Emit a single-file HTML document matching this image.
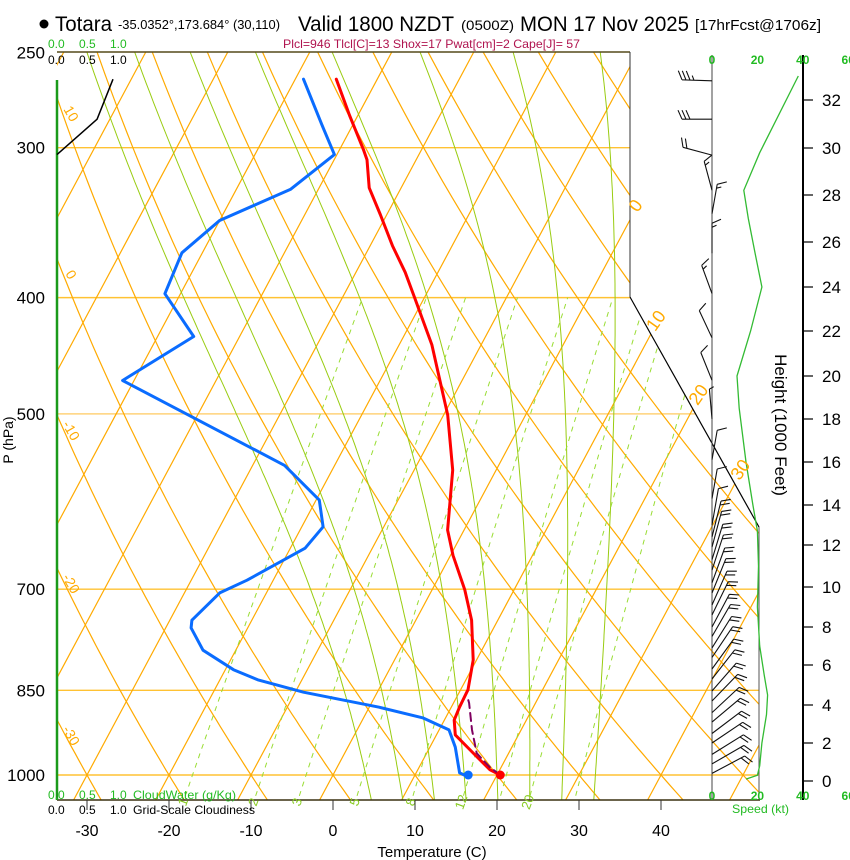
<!DOCTYPE html>
<html><head><meta charset="utf-8"><style>
html,body{margin:0;padding:0;background:#fff;}
body{position:relative;width:850px;height:860px;overflow:hidden;}
svg{display:block;font-family:"Liberation Sans",Arial,sans-serif;}
</style></head><body>
<svg id="chart" xmlns="http://www.w3.org/2000/svg" width="850" height="860" viewBox="0 0 850 860">
<defs><clipPath id="plotclip"><polygon points="57,52 630,52 630,297 759,527 759,800 57,800"/></clipPath></defs>
<g id="title">
<circle cx="44" cy="24" r="4.5" fill="#000"/>
<text x="55" y="31" font-size="21" textLength="57" lengthAdjust="spacingAndGlyphs">Totara</text>
<text x="118" y="29" font-size="12.5" textLength="162" lengthAdjust="spacingAndGlyphs">-35.0352°,173.684° (30,110)</text>
<text x="298" y="31" font-size="21" textLength="156" lengthAdjust="spacingAndGlyphs">Valid 1800 NZDT</text>
<text x="461" y="30" font-size="14" textLength="53" lengthAdjust="spacingAndGlyphs">(0500Z)</text>
<text x="520" y="31" font-size="21" textLength="169" lengthAdjust="spacingAndGlyphs">MON 17 Nov 2025</text>
<text x="695" y="30" font-size="15" textLength="126" lengthAdjust="spacingAndGlyphs">[17hrFcst@1706z]</text>
<text x="283" y="48" font-size="12" fill="#b0144f" textLength="297" lengthAdjust="spacingAndGlyphs">Plcl=946 Tlcl[C]=13 Shox=17 Pwat[cm]=2 Cape[J]= 57</text>
</g>
<g id="grid" clip-path="url(#plotclip)"></g>
<g id="frame"></g>
<g id="profiles"></g>
<g id="wind"></g>
<g id="labels"></g>
</svg>
<script>
// ---- data ----
const tempP = [263,282,301,307,324,341,362,381,400,438,469,501,557,625,656,701,743,802,849,878,900,926,966,990,1000];
const tempT = [-45.0,-41.0,-37.1,-36.0,-33.9,-30.8,-27.3,-24.0,-21.2,-16.0,-12.7,-9.5,-5.3,-2.0,0.3,4.0,6.8,9.6,10.9,11.0,11.2,12.3,16.4,18.8,20.4];
const dewP = [263,287,304,325,345,367,397,431,469,552,590,621,647,688,705,743,754,787,817,833,853,878,896,917,948,996,1000];
const dewT = [-49.0,-43.8,-40.3,-43.4,-50.0,-52.5,-51.9,-45.6,-51.4,-26.1,-19.6,-17.4,-18.2,-23.2,-25.7,-27.3,-26.9,-24.0,-19.0,-15.4,-9.0,1.2,7.2,11.2,13.1,15.3,16.0];
const parcelP = [1000,985,959,917,871,861];
const parcelT = [20.4,18.6,16.1,14.0,11.9,11.3];
const cloudP = [263,284,304];
const cloudC = [0.95,0.68,0.0];
const pressureTicks = [250,300,400,500,700,850,1000];
const pressureLines = [300,400,500,700,850,1000];
const tempTicks = [-30,-20,-10,0,10,20,30,40];
const thetaLabels = [10,0,-10,-20,-30];
const isoLabels = [0,10,20,30];
const mixRatios = [1,2,3,5,8,12,16,20,28];
const mixLabels = [1,2,3,5,8,12,20];
const moistThw = [4,8,12,16,20,24,28,32];
const windH = [32.8,31.2,29.7,28.2,27.2,25.5,23.7,21.7,19.8,18.0,16.1,14.3,13.0,12.4,11.9,11.3,10.8,10.2,9.7,9.1,8.6,8.0,7.5,6.9,6.4,5.8,5.3,4.7,4.2,3.6,3.1,2.5,2.0,1.4,0.9,0.4];
const windDir = [272,270,285,345,10,0,340,335,338,355,10,10,10,14,15,17,18,20,22,24,26,28,30,32,34,36,38,41,44,47,50,53,56,58,60,62];
const windSpd = [35,30,20,15,15,15,15,10,10,5,10,10,10,20,20,20,20,20,20,20,20,20,20,20,20,20,20,20,20,20,20,20,20,20,20,20];
const speedH = [33.0,29.8,28.2,27.0,25.5,24.0,22.0,20.0,18.5,16.0,14.0,12.7,11.0,9.0,7.0,5.5,4.5,3.5,2.0,0.8,0.3,0.1];
const speedV = [38,21,14,16,19,22,17,11,12,15,18,20,20.5,20,21,23,24.5,24,22,21,20,15];
const heightTicks = [0,2,4,6,8,10,12,14,16,18,20,22,24,26,28,30,32];
const speedTicks = [0,20,40,60];

// ---- axes ----
const yP = p => 775 - 521*Math.log(1000/p);
const pY = y => 1000*Math.exp(-(775-y)/521);
const xT = (T,y) => 333 + 8.2*T + 0.535*(775-y);
const hCal = [781,743,705,665,627,587,545,505,462,419,376,331,287,242,195,148,100];
const yH = h => { const i = Math.max(0, Math.min(15, Math.floor(h/2))); const f = (h - i*2)/2; return hCal[i] + f*(hCal[i+1]-hCal[i]); };
const xS = s => 712 + s*2.27;
const bndX = y => y<=297 ? 630 : (y<=527 ? 630+(y-297)*129/230 : 759);

const NS = 'http://www.w3.org/2000/svg';
function mk(parent, tag, attrs){ const e = document.createElementNS(NS, tag); for (const k in attrs) e.setAttribute(k, attrs[k]); parent.appendChild(e); return e; }
const pts = a => a.map(q => q[0].toFixed(1)+','+q[1].toFixed(1)).join(' ');

const grid = document.getElementById('grid');
const frame = document.getElementById('frame');
const prof = document.getElementById('profiles');
const wind = document.getElementById('wind');
const lab = document.getElementById('labels');

pressureLines.forEach(p => {
  const y = yP(p);
  const l = mk(grid,'line',{x1:57,y1:y,x2:760,y2:y,stroke:p===500?'#ffd27a':'#ffc233','stroke-width':1.4});
  
  
});
for (let T=-120; T<=50; T+=10) {
  const l = mk(grid,'line',{x1:xT(T,800),y1:800,x2:xT(T,52),y2:52,stroke:'#ffaa00','stroke-width':1.2});
  
  
}
for (let th=-60; th<=170; th+=10) {
  const a=[]; for (let p=1060; p>=240; p-=10){ const T=(th+273.15)*Math.pow(p/1000,0.2857)-273.15; const y=yP(p); a.push([xT(T,y),y]); }
  const l = mk(grid,'polyline',{points:pts(a),fill:'none',stroke:'#ffaa00','stroke-width':1.2});
  
  
}
function es(T){ return 6.112*Math.exp(17.67*T/(T+243.5)); }
function dTdp(T,p){ const Tk=T+273.15; const rs=0.622*es(T)/(p-es(T)); return (287*Tk+2.5e6*rs)/(p*(1004+2.5e6*2.5e6*rs*0.622/(287*Tk*Tk))); }
moistThw.forEach(tw => {
  const down=[]; let Td=tw; for (let p=1000; p<=1060; p+=5){ const y=yP(p); down.push([xT(Td,y),y]); Td += dTdp(Td,p)*5; }
  const a=[]; let T=tw;
  for (let p=1000; p>=240; p-=5){ const y=yP(p); a.push([xT(T,y),y]); T -= dTdp(T,p)*5; }
  const all = down.reverse().concat(a);
  const l = mk(grid,'polyline',{points:pts(all),fill:'none',stroke:'#99cc11','stroke-width':1});
  
  
});
function tdw(w,p){ const e=w*p/(622+w); const L=Math.log(e/6.112); return 243.5*L/(17.67-L); }
mixRatios.forEach(w => {
  const a=[]; for (let p=1060; p>=400; p-=10){ const y=yP(p); a.push([xT(tdw(w,p),y),y]); }
  const l = mk(grid,'polyline',{points:pts(a),fill:'none',stroke:'#99dd33','stroke-width':1,'stroke-dasharray':'5,5'});
  
  
});
mixLabels.forEach(w => {
  const p=1040, y=yP(p)+8, x=xT(tdw(w,p),y)+6;
  const t = mk(lab,'text',{x:x,y:y,'font-size':13,fill:'#88cc22','text-anchor':'middle',transform:'rotate(-70 '+x+' '+y+')'});
  t.textContent = w;
  
  
});
thetaLabels.forEach(th => {
  let best=800, bd=1e9; for (let y=52;y<=800;y+=1){ const p=pY(y); const T=(th+273.15)*Math.pow(p/1000,0.2857)-273.15; const d=Math.abs(xT(T,y)-57); if(d<bd){bd=d;best=y;} }
  const yy = best+18;
  const t = mk(lab,'text',{x:67,y:yy,'font-size':14,fill:'#ffaa00','text-anchor':'middle',transform:'rotate(60 67 '+yy+')'});
  t.textContent = th;
  
  
});
isoLabels.forEach(T => {
  let best=800; for (let y=800;y>=52;y-=1){ if (xT(T,y)>=bndX(y)){best=y;break;} }
  const x = xT(T,best)+10, y=best-10;
  const t = mk(lab,'text',{x:x,y:y,'font-size':18,fill:'#ffaa00','text-anchor':'middle',transform:'rotate(-55 '+x+' '+y+')'});
  t.textContent = T;
  
  
});

[[57,52,630,52,'#554a1a',1.5],[630,52,630,297,'#333',1],[630,297,759,527,'#000',1.2],[759,527,759,800,'#555',1],[57,800,760,800,'#3a3010',1.5]].forEach(s => {
  const l = mk(frame,'line',{x1:s[0],y1:s[1],x2:s[2],y2:s[3],stroke:s[4],'stroke-width':s[5]});
  
  
});
const cw = mk(frame,'line',{x1:57,y1:80,x2:57,y2:800,stroke:'#1a9a1a','stroke-width':2.5});



pressureTicks.forEach(p => {
  const t = mk(lab,'text',{x:45,y:yP(p)+6,'font-size':17,'text-anchor':'end'});
  t.textContent = p;
  
  
});
tempTicks.forEach(T => {
  const x = 333 + 8.2*T;
  const l = mk(lab,'line',{x1:x,y1:800,x2:x,y2:810,stroke:'#333','stroke-width':1});
  
  
  const t = mk(lab,'text',{x:x,y:836,'font-size':16,'text-anchor':'middle'});
  t.textContent = T;
  
  
});

function profile(P,T,color,w,name,dash){
  const a = P.map((p,i)=>{ const y=yP(p); return [xT(T[i],y),y]; });
  const attrs = {points:pts(a),fill:'none',stroke:color,'stroke-width':w,'stroke-linejoin':'round','stroke-linecap':'round'};
  if (dash) attrs['stroke-dasharray']=dash;
  const l = mk(prof,'polyline',attrs);
  
  
  return a;
}
const ta = profile(tempP,tempT,'#ff0000',3,'temperature-line');
const da = profile(dewP,dewT,'#0a6cff',3,'dewpoint-line');
profile(parcelP,parcelT,'#800060',2,'parcel-line','8,5');
const td = mk(prof,'circle',{cx:ta[ta.length-1][0],cy:ta[ta.length-1][1],r:4.5,fill:'#ff0000'});


const dd = mk(prof,'circle',{cx:da[da.length-1][0]+4,cy:da[da.length-1][1],r:4.5,fill:'#0a6cff'});


const ca = cloudP.map((p,i)=>[57+cloudC[i]*59, yP(p)]);
const cl = mk(prof,'polyline',{points:pts(ca),fill:'none',stroke:'#000','stroke-width':1.5});



const sa = mk(wind,'line',{x1:712,y1:55,x2:712,y2:800,stroke:'#444','stroke-width':1});


const ha = mk(wind,'line',{x1:803,y1:55,x2:803,y2:800,stroke:'#000','stroke-width':2});


heightTicks.forEach(h => {
  const y = yH(h);
  const l = mk(wind,'line',{x1:803,y1:y,x2:813,y2:y,stroke:'#000','stroke-width':1.2});
  
  
  const t = mk(wind,'text',{x:822,y:y+6,'font-size':17});
  t.textContent = h;
  
  
});
speedTicks.forEach(s => {
  [64,800].forEach(y => {
    const t = mk(wind,'text',{x:xS(s),y:y,'font-size':12,'font-weight':'bold',fill:'#22bb22','text-anchor':'middle'});
    t.textContent = s;
    
    
  });
});
const spl = mk(wind,'polyline',{points:pts(speedH.map((h,i)=>[xS(speedV[i]),yH(h)])),fill:'none',stroke:'#33bb33','stroke-width':1.3});


windH.forEach((h,i) => {
  const bx=712, by=yH(h), d=windDir[i]*Math.PI/180, L=h>13?30:37;
  const ux=Math.sin(d), uy=-Math.cos(d);
  const ex=bx+ux*L, ey=by+uy*L;
  let path='M'+bx+','+by.toFixed(1)+'L'+ex.toFixed(1)+','+ey.toFixed(1);
  const px=-uy, py=ux;
  let s=windSpd[i], k=0;
  while (s>=10){ const sx=ex-ux*k*4, sy=ey-uy*k*4; path+='M'+sx.toFixed(1)+','+sy.toFixed(1)+'l'+((px*0.9+ux*0.4)*10).toFixed(1)+','+((py*0.9+uy*0.4)*10).toFixed(1); s-=10; k++; }
  if (s>=5){ const sx=ex-ux*k*4, sy=ey-uy*k*4; path+='M'+sx.toFixed(1)+','+sy.toFixed(1)+'l'+((px*0.9+ux*0.4)*5).toFixed(1)+','+((py*0.9+uy*0.4)*5).toFixed(1); }
  const b = mk(wind,'path',{d:path,fill:'none',stroke:'#111','stroke-width':1.1});
  
  
});
</script>
<svg style="position:absolute;left:0;top:0" width="850" height="860">
<g font-family="Liberation Sans, Arial, sans-serif">
<text x="48" y="48" font-size="12" fill="#22bb22">0.0</text>
<text x="79" y="48" font-size="12" fill="#22bb22">0.5</text>
<text x="110" y="48" font-size="12" fill="#22bb22">1.0</text>
<text x="48" y="64" font-size="12">0.0</text>
<text x="79" y="64" font-size="12">0.5</text>
<text x="110" y="64" font-size="12">1.0</text>
<text x="48" y="799" font-size="12" fill="#22bb22">0.0</text>
<text x="79" y="799" font-size="12" fill="#22bb22">0.5</text>
<text x="110" y="799" font-size="12" fill="#22bb22">1.0</text>
<text x="133" y="799" font-size="12" fill="#22bb22" textLength="103" lengthAdjust="spacingAndGlyphs">CloudWater (g/Kg)</text>
<text x="48" y="814" font-size="12">0.0</text>
<text x="79" y="814" font-size="12">0.5</text>
<text x="110" y="814" font-size="12">1.0</text>
<text x="133" y="814" font-size="12" textLength="122" lengthAdjust="spacingAndGlyphs">Grid-Scale Cloudiness</text>
<text x="432" y="857" font-size="15" text-anchor="middle">Temperature (C)</text>
<text x="732" y="813" font-size="12" fill="#22bb22" textLength="57" lengthAdjust="spacingAndGlyphs">Speed (kt)</text>
<text transform="translate(13,440) rotate(-90)" font-size="14" text-anchor="middle">P (hPa)</text>
<text transform="translate(775,425) rotate(90)" font-size="17" text-anchor="middle">Height (1000 Feet)</text>
</g></svg>
</body></html>
